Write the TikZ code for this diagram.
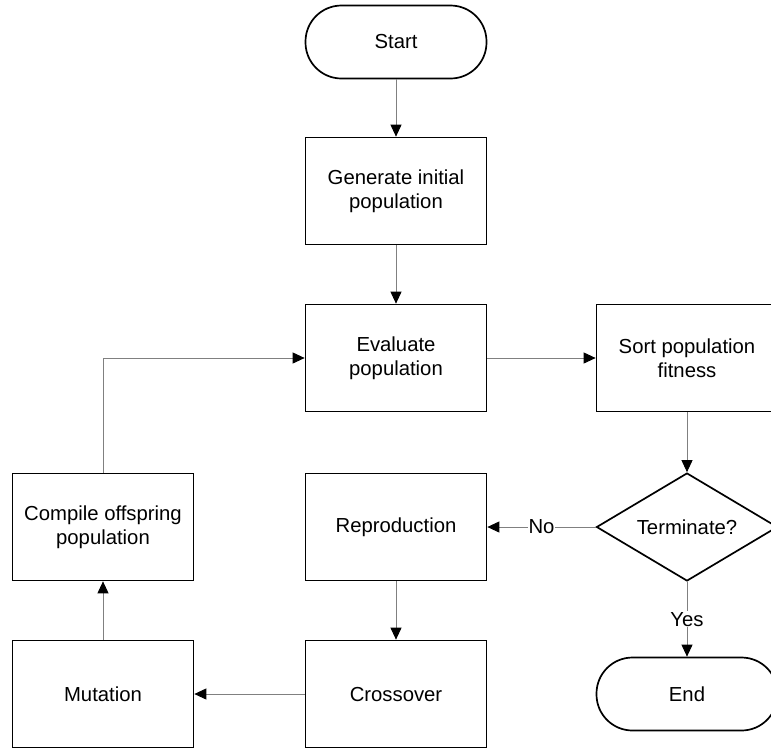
\documentclass[tikz,border=0pt]{standalone}
\usepackage{fontspec}
\setmainfont{Liberation Sans}
\usetikzlibrary{shapes.geometric,arrows.meta}

\begin{document}
\begin{tikzpicture}[x=1pt,y=-1pt,
	box/.style={draw,line width=1.7pt,minimum width=181pt,minimum height=107pt,align=center,inner sep=0pt,font=\fontsize{20.3}{24}\selectfont},
	term/.style={box,minimum height=73pt,rounded corners=36pt},
	decide/.style={box,diamond,aspect=1.68,minimum width=181pt,minimum height=108pt},
	flow/.style={draw=gray,line width=0.9pt,-{Triangle[length=12pt,width=11pt,color=black]}},
	lbl/.style={fill=white,inner sep=1pt,font=\fontsize{20.3}{24}\selectfont}]
	\clip (0,0) rectangle (771,748);
	\node[term] (start) at (396,42) {Start};
	\node[box] (generate) at (396,191) {Generate initial\\population};
	\node[box] (evaluate) at (396,358) {Evaluate\\population};
	\node[box] (sort) at (687,358) {Sort population\\fitness};
	\node[decide] (terminate) at (687,527) {Terminate?};
	\node[box] (reproduce) at (396,527) {Reproduction};
	\node[box] (compile) at (103,527) {Compile offspring\\population};
	\node[box] (mutate) at (103,694) {Mutation};
	\node[box] (cross) at (396,694) {Crossover};
	\node[term] (finish) at (687,694) {End};
	\draw[flow] (start) -- (generate);
	\draw[flow] (generate) -- (evaluate);
	\draw[flow] (evaluate) -- (sort);
	\draw[flow] (sort) -- (terminate);
	\draw[flow] (terminate.west) -- node[lbl] {No} (reproduce.east);
	\draw[flow] (terminate.south) -- node[lbl] {Yes} (finish.north);
	\draw[flow] (reproduce) -- (cross);
	\draw[flow] (cross) -- (mutate);
	\draw[flow] (mutate) -- (compile);
	\draw[flow] (compile.north) |- (evaluate.west);
\end{tikzpicture}
\end{document}
